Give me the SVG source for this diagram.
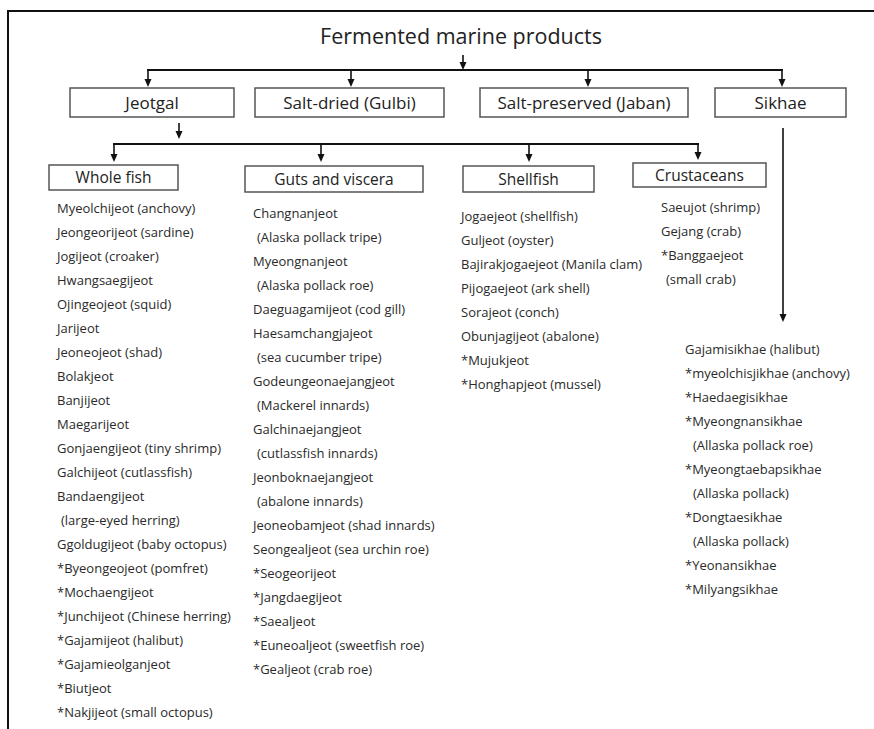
<svg xmlns="http://www.w3.org/2000/svg" width="874" height="729" viewBox="0 0 874 729">
<defs>
<marker id="ah" markerUnits="userSpaceOnUse" markerWidth="8" markerHeight="8" refX="5" refY="4" orient="auto" viewBox="0 0 8 8">
<path d="M0,0.5 L8,4 L0,7.5 Z" fill="#111"/>
</marker>
<style>
.frame{stroke:#111;stroke-width:2;fill:none}
.box{fill:#fff;stroke:#555;stroke-width:1.5}
.c{stroke:#111;stroke-width:2;fill:none}
.a{stroke:#111;stroke-width:1.6;fill:none}
.t1{font-family:"Open Sans","Noto Sans",sans-serif;font-size:17px;fill:#222;text-anchor:middle}
.t2{font-family:"Open Sans","Noto Sans",sans-serif;font-size:15.5px;fill:#222;text-anchor:middle}
.ttl{font-family:"Open Sans","Noto Sans",sans-serif;font-size:21.5px;fill:#222;text-anchor:middle}
.li{font-family:"Open Sans","Noto Sans",sans-serif;font-size:13px;fill:#2a2a2a}
</style>
</defs>
<rect width="874" height="729" fill="#fff"/>
<path class="frame" d="M8,729 L8,11 L874,11"/>

<g id="title"><text class="ttl" x="461" y="44">Fermented marine products</text></g>

<g id="connectors">
<path class="a" d="M463,55 L463,67" marker-end="url(#ah)"/>
<path class="c" d="M147,70 L783,70"/>
<path class="a" d="M148,70 L148,84" marker-end="url(#ah)"/>
<path class="a" d="M351,70 L351,84" marker-end="url(#ah)"/>
<path class="a" d="M588,70 L588,84" marker-end="url(#ah)"/>
<path class="a" d="M782,70 L782,84" marker-end="url(#ah)"/>
<path class="a" d="M179,123 L179,136" marker-end="url(#ah)"/>
<path class="c" d="M113,144 L699,144"/>
<path class="a" d="M114,144 L114,159" marker-end="url(#ah)"/>
<path class="a" d="M321,144 L321,159" marker-end="url(#ah)"/>
<path class="a" d="M529,144 L529,159" marker-end="url(#ah)"/>
<path class="a" d="M698,144 L698,157" marker-end="url(#ah)"/>
<path class="a" d="M783,128 L783,319" marker-end="url(#ah)"/>
</g>

<g id="jeotgal"><rect class="box" x="70" y="88" width="164" height="29"/><text class="t1" x="152" y="108.5">Jeotgal</text></g>
<g id="salt-dried"><rect class="box" x="255" y="88" width="189" height="29"/><text class="t1" x="349.5" y="108.5">Salt-dried (Gulbi)</text></g>
<g id="salt-preserved"><rect class="box" x="480" y="88" width="208" height="29"/><text class="t1" x="584" y="108.5">Salt-preserved (Jaban)</text></g>
<g id="sikhae"><rect class="box" x="715" y="88" width="131" height="29"/><text class="t1" x="780.5" y="108.5">Sikhae</text></g>

<g id="whole-fish"><rect class="box" x="49" y="165" width="129" height="25"/><text class="t2" x="113.5" y="183">Whole fish</text></g>
<g id="guts"><rect class="box" x="245" y="166" width="178" height="26"/><text class="t2" x="334" y="184.5">Guts and viscera</text></g>
<g id="shellfish"><rect class="box" x="463" y="166" width="131" height="26"/><text class="t2" x="528.5" y="184.5">Shellfish</text></g>
<g id="crustaceans"><rect class="box" x="633" y="163" width="133" height="24"/><text class="t2" x="699.5" y="180.5">Crustaceans</text></g>

<g id="whole-fish-list" class="li">
<text x="57" y="213">Myeolchijeot (anchovy)</text>
<text x="57" y="237">Jeongeorijeot (sardine)</text>
<text x="57" y="261">Jogijeot (croaker)</text>
<text x="57" y="285">Hwangsaegijeot</text>
<text x="57" y="309">Ojingeojeot (squid)</text>
<text x="57" y="333">Jarijeot</text>
<text x="57" y="357">Jeoneojeot (shad)</text>
<text x="57" y="381">Bolakjeot</text>
<text x="57" y="405">Banjijeot</text>
<text x="57" y="429">Maegarijeot</text>
<text x="57" y="453">Gonjaengijeot (tiny shrimp)</text>
<text x="57" y="477">Galchijeot (cutlassfish)</text>
<text x="57" y="501">Bandaengijeot</text>
<text x="61" y="525">(large-eyed herring)</text>
<text x="57" y="549">Ggoldugijeot (baby octopus)</text>
<text x="57" y="573">*Byeongeojeot (pomfret)</text>
<text x="57" y="597">*Mochaengijeot</text>
<text x="57" y="621">*Junchijeot (Chinese herring)</text>
<text x="57" y="645">*Gajamijeot (halibut)</text>
<text x="57" y="669">*Gajamieolganjeot</text>
<text x="57" y="693">*Biutjeot</text>
<text x="57" y="717">*Nakjijeot (small octopus)</text>
</g>

<g id="guts-list" class="li">
<text x="253" y="218">Changnanjeot</text>
<text x="257" y="242">(Alaska pollack tripe)</text>
<text x="253" y="266">Myeongnanjeot</text>
<text x="257" y="290">(Alaska pollack roe)</text>
<text x="253" y="314">Daeguagamijeot (cod gill)</text>
<text x="253" y="338">Haesamchangjajeot</text>
<text x="257" y="362">(sea cucumber tripe)</text>
<text x="253" y="386">Godeungeonaejangjeot</text>
<text x="257" y="410">(Mackerel innards)</text>
<text x="253" y="434">Galchinaejangjeot</text>
<text x="257" y="458">(cutlassfish innards)</text>
<text x="253" y="482">Jeonboknaejangjeot</text>
<text x="257" y="506">(abalone innards)</text>
<text x="253" y="530">Jeoneobamjeot (shad innards)</text>
<text x="253" y="554">Seongealjeot (sea urchin roe)</text>
<text x="253" y="578">*Seogeorijeot</text>
<text x="253" y="602">*Jangdaegijeot</text>
<text x="253" y="626">*Saealjeot</text>
<text x="253" y="650">*Euneoaljeot (sweetfish roe)</text>
<text x="253" y="674">*Gealjeot (crab roe)</text>
</g>

<g id="shellfish-list" class="li">
<text x="461" y="221">Jogaejeot (shellfish)</text>
<text x="461" y="245">Guljeot (oyster)</text>
<text x="461" y="269">Bajirakjogaejeot (Manila clam)</text>
<text x="461" y="293">Pijogaejeot (ark shell)</text>
<text x="461" y="317">Sorajeot (conch)</text>
<text x="461" y="341">Obunjagijeot (abalone)</text>
<text x="461" y="365">*Mujukjeot</text>
<text x="461" y="389">*Honghapjeot (mussel)</text>
</g>

<g id="crustaceans-list" class="li">
<text x="661" y="212">Saeujot (shrimp)</text>
<text x="661" y="236">Gejang (crab)</text>
<text x="661" y="260">*Banggaejeot</text>
<text x="666" y="284">(small crab)</text>
</g>

<g id="sikhae-list" class="li">
<text x="685" y="354">Gajamisikhae (halibut)</text>
<text x="685" y="378">*myeolchisjikhae (anchovy)</text>
<text x="685" y="402">*Haedaegisikhae</text>
<text x="685" y="426">*Myeongnansikhae</text>
<text x="693" y="450">(Allaska pollack roe)</text>
<text x="685" y="474">*Myeongtaebapsikhae</text>
<text x="693" y="498">(Allaska pollack)</text>
<text x="685" y="522">*Dongtaesikhae</text>
<text x="693" y="546">(Allaska pollack)</text>
<text x="685" y="570">*Yeonansikhae</text>
<text x="685" y="594">*Milyangsikhae</text>
</g>
</svg>
